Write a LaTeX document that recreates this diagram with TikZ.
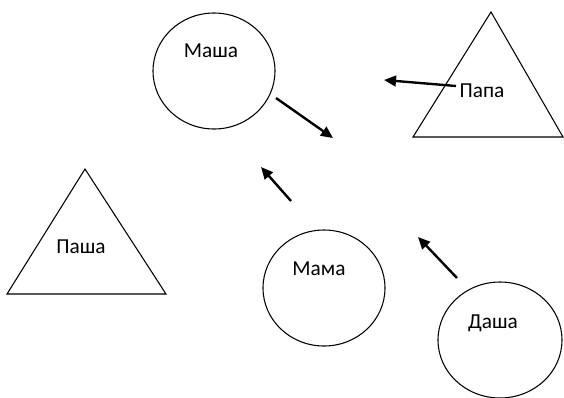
\documentclass[tikz,border=0pt]{standalone}
\usepackage{fontspec}
\setmainfont{Carlito}
\usetikzlibrary{arrows.meta}

\tikzset{
  famname/.style={anchor=base, inner sep=0.75pt, font=\fontsize{16}{19}\selectfont},
  shapeline/.style={line width=0.8pt},
  bigarrow/.style={line width=1.8pt, -{Triangle[length=9pt,width=8pt]}},
}

\begin{document}
\begin{tikzpicture}[x=0.75pt,y=0.75pt,yscale=-1,xscale=1]
\useasboundingbox (0,0) rectangle (564,397);

%Shape: Circle [masha]
\draw [shapeline] (214,71) circle [x radius=61, y radius=58];
%Shape: Circle [mama]
\draw [shapeline] (324,288) circle [x radius=61, y radius=58];
%Shape: Circle [dasha]
\draw [shapeline] (500,340) circle [x radius=62, y radius=58];
%Shape: Triangle [papa]
\draw [shapeline] (491,12) -- (413,137) -- (563,137) -- cycle ;
%Shape: Triangle [pasha]
\draw [shapeline] (85,169) -- (7,294) -- (166,294) -- cycle ;

% Text Node
\draw (211,57) node (masha) [famname] {Маша};
\draw (482,97) node (papa) [famname] {Папа};
\draw (81,253) node (pasha) [famname] {Паша};
\draw (319,275) node (mama) [famname] {Мама};
\draw (493,328) node (dasha) [famname] {Даша};

% arrow ends
\coordinate (mashaOut) at (276,98);
\coordinate (mashaTo) at (333,138);
\coordinate (papaOut) at (456,86);
\coordinate (papaTo) at (384,80);
\coordinate (mamaOut) at (291,201);
\coordinate (mamaTo) at (261,167);
\coordinate (dashaOut) at (457,278);
\coordinate (dashaTo) at (418,237);

%Straight Lines
\draw [bigarrow] (mashaOut) -- (mashaTo) ;
\draw [bigarrow] (papaOut) -- (papaTo) ;
\draw [bigarrow] (mamaOut) -- (mamaTo) ;
\draw [bigarrow] (dashaOut) -- (dashaTo) ;

\end{tikzpicture}
\end{document}
